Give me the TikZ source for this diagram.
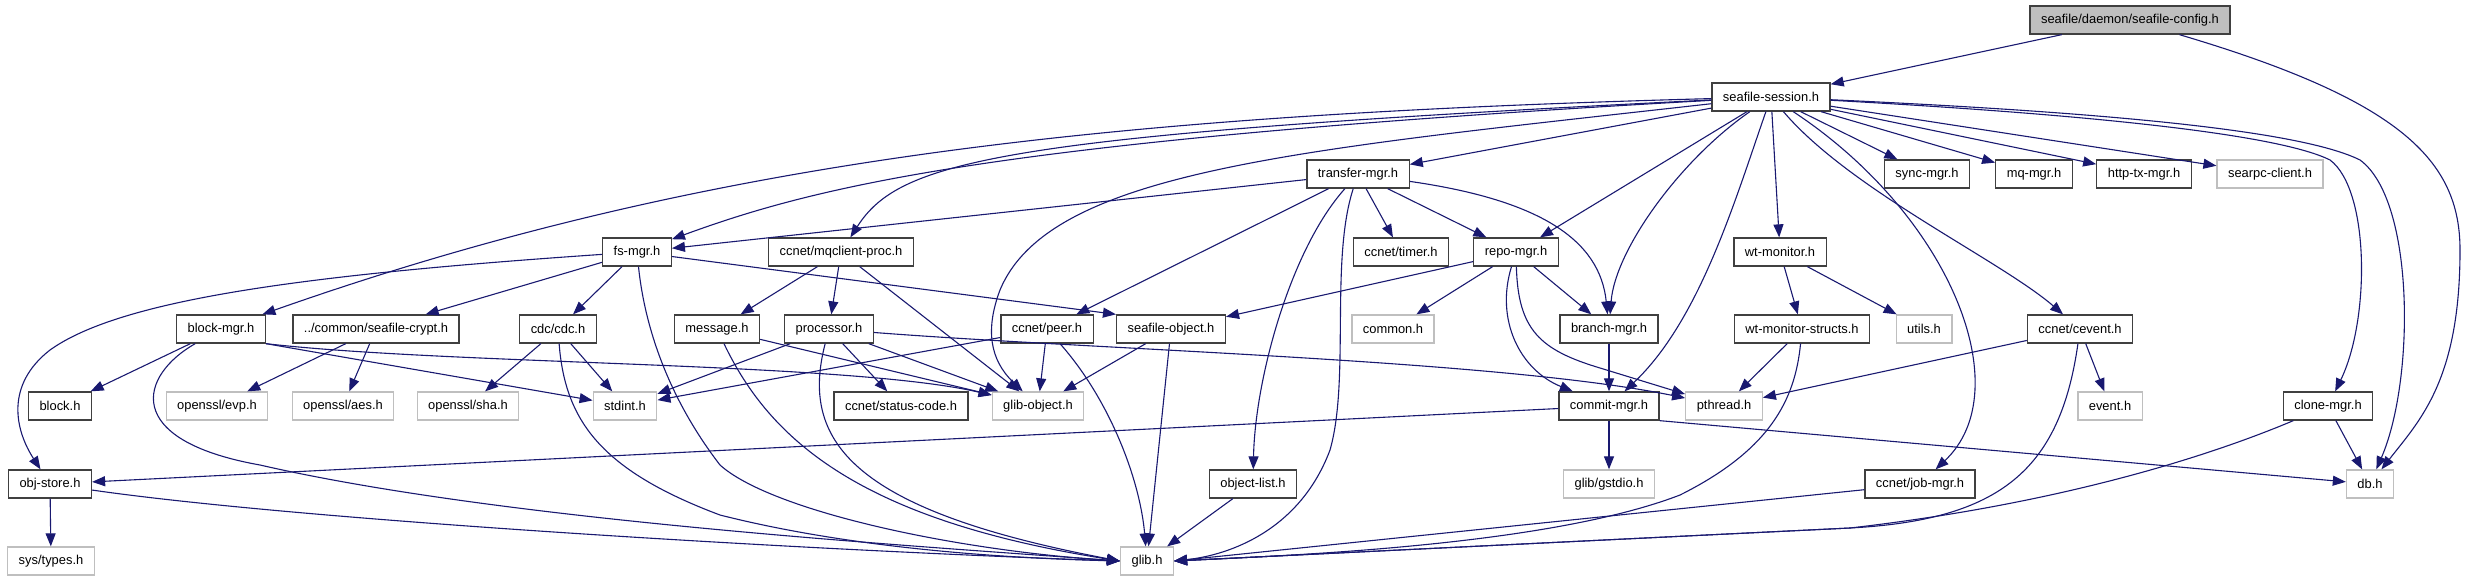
\documentclass[tikz,border=0pt]{standalone}
\usepackage{fontspec}
\setmainfont{Liberation Sans}
\usepackage{tikz}
\usetikzlibrary{arrows.meta}
\definecolor{edgeblue}{RGB}{25,25,112}
\definecolor{boxgray}{RGB}{191,191,191}
\definecolor{boxline}{RGB}{64,64,64}

\begin{document}
\begin{tikzpicture}[x=1pt,y=-1pt,font=\fontsize{12.9}{14}\selectfont,>={Triangle[length=13pt,width=10pt]},
  doc/.style={draw=boxline,line width=1.3pt,fill=white,minimum height=28pt,inner xsep=11pt,inner ysep=0pt},
  ext/.style={doc,draw=boxgray},
  root/.style={doc,fill=boxgray},
  inc/.style={->,draw=edgeblue,line width=1.1pt}]
\useasboundingbox (0,0) rectangle (2467,581);
\node[root] (cfg) at (2130,20) {seafile/daemon/seafile-config.h};
\node[doc] (sess) at (1771,97) {seafile-session.h};
\node[doc] (transfer) at (1358,174) {transfer-mgr.h};
\node[doc] (sync) at (1927,174) {sync-mgr.h};
\node[doc] (mq) at (2034,174) {mq-mgr.h};
\node[doc] (httptx) at (2144,174) {http-tx-mgr.h};
\node[ext] (searpc) at (2270,174) {searpc-client.h};
\node[doc] (fsmgr) at (637,252) {fs-mgr.h};
\node[doc] (mqclient) at (841,252) {ccnet/mqclient-proc.h};
\node[doc] (timer) at (1401,252) {ccnet/timer.h};
\node[doc] (repo) at (1516,252) {repo-mgr.h};
\node[doc] (wtmon) at (1780,252) {wt-monitor.h};
\node[doc] (blockmgr) at (221,329) {block-mgr.h};
\node[doc] (crypt) at (376,329) {../common/seafile-crypt.h};
\node[doc] (cdc) at (558,329) {cdc/cdc.h};
\node[doc] (message) at (717,329) {message.h};
\node[doc] (processor) at (829,329) {processor.h};
\node[doc] (peer) at (1047,329) {ccnet/peer.h};
\node[doc] (seafobj) at (1171,329) {seafile-object.h};
\node[ext] (common) at (1393,329) {common.h};
\node[doc] (branch) at (1609,329) {branch-mgr.h};
\node[doc] (wtstructs) at (1802,329) {wt-monitor-structs.h};
\node[ext] (utils) at (1924,329) {utils.h};
\node[doc] (cevent) at (2080,329) {ccnet/cevent.h};
\node[doc] (block) at (60,406) {block.h};
\node[ext] (evp) at (217,406) {openssl/evp.h};
\node[ext] (aes) at (343,406) {openssl/aes.h};
\node[ext] (sha) at (468,406) {openssl/sha.h};
\node[ext] (stdint) at (625,406) {stdint.h};
\node[doc] (status) at (901,406) {ccnet/status-code.h};
\node[ext] (gobject) at (1038,406) {glib-object.h};
\node[doc] (commit) at (1609,406) {commit-mgr.h};
\node[ext] (pthread) at (1724,406) {pthread.h};
\node[ext] (event) at (2110,406) {event.h};
\node[doc] (clone) at (2328,406) {clone-mgr.h};
\node[doc] (objstore) at (50,484) {obj-store.h};
\node[doc] (objlist) at (1253,484) {object-list.h};
\node[ext] (gstdio) at (1609,484) {glib/gstdio.h};
\node[doc] (jobmgr) at (1920,484) {ccnet/job-mgr.h};
\node[ext] (db) at (2370,484) {db.h};
\node[ext] (systypes) at (51,561) {sys/types.h};
\node[ext] (glib) at (1147,561) {glib.h};
\draw[inc] (cfg) -- (sess);
\draw[inc] (cfg) .. controls (2400,100) and (2460,160) .. (2460,250) .. controls (2460,380) and (2420,420) .. (db);
\draw[inc] (sess) -- (transfer);
\draw[inc] (sess) -- (sync);
\draw[inc] (sess) -- (mq);
\draw[inc] (sess) -- (httptx);
\draw[inc] (sess) -- (searpc);
\draw[inc] (sess) -- (repo);
\draw[inc] (sess) -- (wtmon);
\draw[inc] (sess) .. controls (1850,190) and (2000,260) .. (cevent);
\draw[inc] (sess) .. controls (1000,140) and (820,185) .. (fsmgr);
\draw[inc] (sess) .. controls (1000,135) and (900,160) .. (mqclient);
\draw[inc] (sess) .. controls (1100,115) and (700,160) .. (blockmgr);
\draw[inc] (sess) .. controls (1300,150) and (1050,170) .. (1000,290) .. controls (985,330) and (990,360) .. (gobject);
\draw[inc] (sess) .. controls (1680,160) and (1615,250) .. (branch);
\draw[inc] (sess) .. controls (1735,200) and (1700,320) .. (commit);
\draw[inc] (sess) .. controls (1950,215) and (2020,390) .. (jobmgr);
\draw[inc] (sess) .. controls (2100,115) and (2280,135) .. (2330,160) .. controls (2370,190) and (2370,320) .. (clone);
\draw[inc] (sess) .. controls (2100,112) and (2300,130) .. (2360,160) .. controls (2415,200) and (2415,380) .. (db);
\draw[inc] (transfer) -- (fsmgr);
\draw[inc] (transfer) -- (timer);
\draw[inc] (transfer) -- (repo);
\draw[inc] (transfer) -- (peer);
\draw[inc] (transfer) .. controls (1540,200) and (1600,240) .. (branch);
\draw[inc] (transfer) .. controls (1290,250) and (1255,380) .. (objlist);
\draw[inc] (transfer) .. controls (1330,260) and (1350,380) .. (1330,450) .. controls (1300,530) and (1230,555) .. (glib.east);
\draw[inc] (repo) -- (seafobj);
\draw[inc] (repo) -- (common);
\draw[inc] (repo) -- (branch);
\draw[inc] (repo) .. controls (1495,320) and (1520,370) .. (commit);
\draw[inc] (repo) .. controls (1518,330) and (1540,350) .. (1600,368) -- (pthread);
\draw[inc] (branch) -- (commit);
\draw[inc] (commit) -- (gstdio);
\draw[inc] (commit) -- (objstore);
\draw[inc] (commit.south east) -- (db);
\draw[inc] (wtmon) -- (wtstructs);
\draw[inc] (wtmon) -- (utils);
\draw[inc] (wtstructs) -- (pthread);
\draw[inc] (wtstructs) .. controls (1795,400) and (1770,450) .. (1680,495) .. controls (1550,545) and (1300,555) .. (glib.east);
\draw[inc] (cevent) -- (pthread);
\draw[inc] (cevent) -- (event);
\draw[inc] (cevent) .. controls (2060,470) and (2000,520) .. (1850,528) -- (glib.east);
\draw[inc] (clone) -- (db);
\draw[inc] (clone) .. controls (2200,460) and (2050,505) .. (1850,528) -- (glib.east);
\draw[inc] (jobmgr) -- (glib.east);
\draw[inc] (objlist) -- (glib);
\draw[inc] (fsmgr) .. controls (300,275) and (120,300) .. (50,350) .. controls (5,385) and (15,430) .. (objstore);
\draw[inc] (fsmgr) -- (crypt);
\draw[inc] (fsmgr) -- (cdc);
\draw[inc] (fsmgr) -- (seafobj.north west);
\draw[inc] (fsmgr) .. controls (645,330) and (670,400) .. (720,465) .. controls (770,510) and (950,550) .. (glib.west);
\draw[inc] (mqclient) -- (message);
\draw[inc] (mqclient) -- (processor);
\draw[inc] (mqclient) -- (gobject);
\draw[inc] (blockmgr) -- (block);
\draw[inc] (blockmgr.south east) -- (stdint);
\draw[inc] (blockmgr.south east) .. controls (450,365) and (850,362) .. (gobject);
\draw[inc] (blockmgr) .. controls (140,375) and (120,440) .. (260,465) .. controls (500,520) and (900,545) .. (glib.west);
\draw[inc] (crypt) -- (evp);
\draw[inc] (crypt) -- (aes);
\draw[inc] (cdc) -- (sha);
\draw[inc] (cdc) -- (stdint);
\draw[inc] (cdc) .. controls (565,420) and (600,470) .. (720,515) .. controls (850,548) and (1000,558) .. (glib.west);
\draw[inc] (objstore) -- (systypes);
\draw[inc] (objstore) .. controls (300,520) and (800,550) .. (glib.west);
\draw[inc] (message) -- (gobject);
\draw[inc] (message) .. controls (770,440) and (860,520) .. (glib.west);
\draw[inc] (processor) -- (stdint);
\draw[inc] (processor) -- (status);
\draw[inc] (processor) -- (gobject);
\draw[inc] (processor) .. controls (1100,350) and (1500,360) .. (pthread);
\draw[inc] (processor) .. controls (800,440) and (850,510) .. (glib.west);
\draw[inc] (peer) -- (stdint);
\draw[inc] (peer) -- (gobject);
\draw[inc] (peer) .. controls (1110,400) and (1140,480) .. (glib);
\draw[inc] (seafobj) -- (gobject);
\draw[inc] (seafobj) -- (glib);
\end{tikzpicture}
\end{document}
